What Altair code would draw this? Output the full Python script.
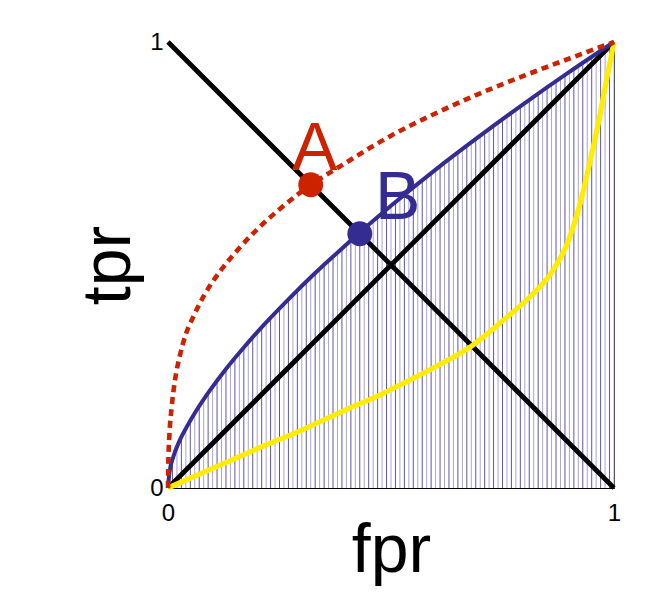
import altair as alt
import pandas as pd

# ---- data ----
red_x = [0, 0.0007, 0.003, 0.0083, 0.0157, 0.027, 0.04, 0.055, 0.08, 0.12, 0.16,
         0.2, 0.25, 0.3, 0.4, 0.5, 0.6, 0.7, 0.8, 0.9, 1.0]
red_y = [0, 0.056, 0.115, 0.182, 0.242, 0.298, 0.345, 0.38, 0.43, 0.49, 0.538,
         0.58, 0.625, 0.665, 0.73, 0.79, 0.84, 0.885, 0.925, 0.963, 1.0]

blue_x = [0, 0.003, 0.012, 0.025, 0.042, 0.065, 0.094, 0.13, 0.169, 0.218, 0.27,
          0.33, 0.4, 0.43, 0.5, 0.6, 0.7, 0.8, 0.9, 1.0]
blue_y = [0, 0.033, 0.07, 0.104, 0.137, 0.176, 0.219, 0.267, 0.314, 0.369, 0.423,
          0.482, 0.546, 0.573, 0.633, 0.714, 0.79, 0.863, 0.933, 1.0]

yel_x = [0, 0.1, 0.2, 0.3, 0.4, 0.476, 0.52, 0.6, 0.679, 0.753, 0.813, 0.858, 0.896,
         0.926, 0.948, 0.967, 0.982, 1.0]
yel_y = [0, 0.044, 0.088, 0.13, 0.176, 0.209, 0.231, 0.272, 0.317, 0.377, 0.43, 0.48, 0.55,
         0.645, 0.74, 0.828, 0.908, 1.0]

diag_x = [0, 1]
diag_y = [0, 1]
anti_y = [1, 0]

pt_labels = ["A", "B"]
pt_x = [0.32, 0.43]
pt_y = [0.68, 0.57]

tick_vals = [0, 1]

# ---- tables ----
red = pd.DataFrame({"x": red_x, "y": red_y})
blue = pd.DataFrame({"x": blue_x, "y": blue_y})
yel = pd.DataFrame({"x": yel_x, "y": yel_y})
diag = pd.DataFrame({"x": diag_x, "y": diag_y})
anti = pd.DataFrame({"x": diag_x, "y": anti_y})
pts = pd.DataFrame({"label": pt_labels, "x": pt_x, "y": pt_y})
pt_a = pts[pts.label == "A"]
pt_b = pts[pts.label == "B"]
hatch = pd.DataFrame({"x": [i / 100 for i in range(1, 101)],
                      "shade": ["d" if i % 2 else "l" for i in range(1, 101)]})

FONT = "Liberation Sans"
RED = "#cc2200"
BLUE = "#352c91"
YEL = "#ffec00"

xs = alt.Scale(domain=[0, 1], nice=False, zero=False)
ys = alt.Scale(domain=[0, 1], nice=False, zero=False)

X = alt.X("x:Q", scale=xs,
          axis=alt.Axis(values=tick_vals, format="d", title="fpr",
                        labelFont=FONT, labelFontSize=24, labelPadding=13, labelFlush=False,
                        titleY=83, titleBaseline="alphabetic"))
Y = alt.Y("y:Q", scale=ys,
          axis=alt.Axis(values=tick_vals, format="d", title="tpr",
                        labelFont=FONT, labelFontSize=24, labelPadding=5,
                        titleX=-39, titleY=223, titleAngle=-90,
                        titleBaseline="alphabetic", titleAlign="center"))

hatch_layer = alt.Chart(hatch).mark_rule(strokeWidth=1).encode(
    x=X, y=alt.datum(0), y2=alt.datum(1),
    color=alt.Color("shade:N", scale=alt.Scale(domain=["d", "l"], range=["#5e55aa", "#aaa4d4"]),
                    legend=None))

cover = alt.Chart(blue).mark_area(color="white", interpolate="monotone").encode(
    x=X, y=Y, y2=alt.datum(1))

diag_layer = alt.Chart(diag).mark_line(color="black", strokeWidth=4.8).encode(x=X, y=Y)
anti_layer = alt.Chart(anti).mark_line(color="black", strokeWidth=4.8).encode(x=X, y=Y)
yel_layer = alt.Chart(yel).mark_line(color=YEL, strokeWidth=5.2, interpolate="monotone").encode(x=X, y=Y)
blue_layer = alt.Chart(blue).mark_line(color=BLUE, strokeWidth=4, interpolate="monotone").encode(x=X, y=Y)
red_layer = alt.Chart(red).mark_line(color=RED, strokeWidth=4.6, strokeDash=[7, 5],
                                     interpolate="monotone").encode(x=X, y=Y)

pt_a_layer = alt.Chart(pt_a).mark_circle(size=620, opacity=1, color=RED).encode(x=X, y=Y)
pt_b_layer = alt.Chart(pt_b).mark_circle(size=620, opacity=1, color=BLUE).encode(x=X, y=Y)

txt_a = alt.Chart(pt_a).mark_text(
    font=FONT, fontSize=68, dx=4, dy=-15, baseline="alphabetic", align="center", color=RED
).encode(x=X, y=Y, text="label:N")
txt_b = alt.Chart(pt_b).mark_text(
    font=FONT, fontSize=68, dx=38, dy=-15, baseline="alphabetic", align="center", color=BLUE
).encode(x=X, y=Y, text="label:N")

chart = alt.layer(
    hatch_layer, cover, diag_layer, anti_layer, yel_layer, blue_layer, red_layer,
    pt_a_layer, pt_b_layer, txt_a, txt_b
).properties(
    width=446, height=446,
    autosize=alt.AutoSizeParams(type="none"),
    padding={"left": 160, "top": 34, "right": 26, "bottom": 98},
).configure_view(
    stroke="black", strokeWidth=1
).configure_axis(
    labelFont=FONT, labelFontSize=24, labelColor="black",
    titleFont=FONT, titleFontSize=68, titleFontWeight="normal", titleColor="black",
    ticks=False, grid=False, domain=False, zindex=1
)

chart.save("out.html", embed_options={"renderer": "svg", "actions": False})
